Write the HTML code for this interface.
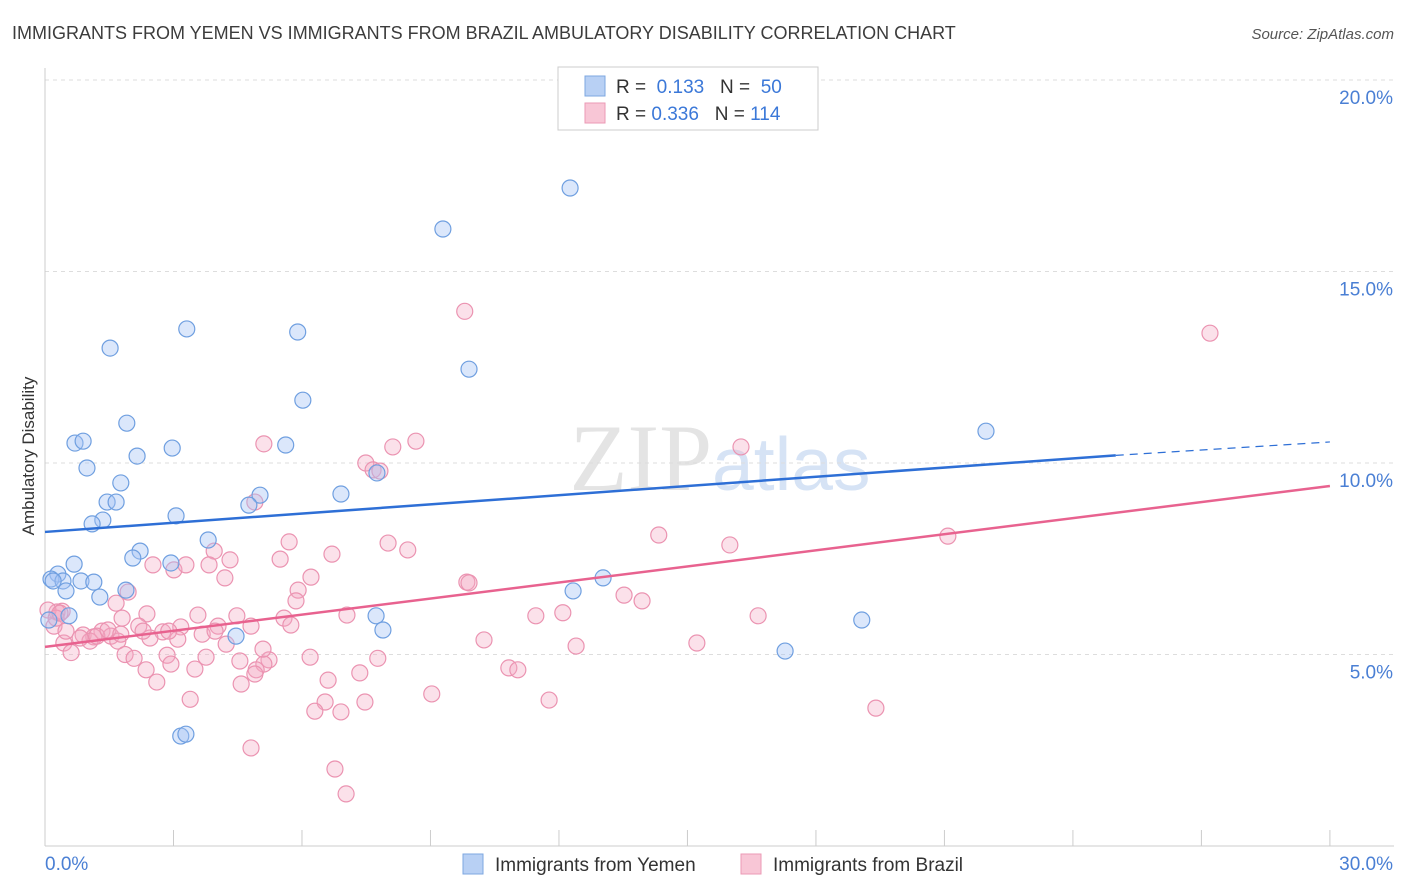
<!DOCTYPE html>
<html><head><meta charset="utf-8">
<style>
body{margin:0;background:#fff;font-family:"Liberation Sans",sans-serif;}
#wrap{position:relative;width:1406px;height:892px;overflow:hidden;}
</style></head>
<body>
<div id="wrap">
<svg id="chart" width="1406" height="892">
<text x="12" y="39" font-size="18" fill="#3c3c3c">IMMIGRANTS FROM YEMEN VS IMMIGRANTS FROM BRAZIL AMBULATORY DISABILITY CORRELATION CHART</text>
<text x="1394" y="39" font-size="15" fill="#555" font-style="italic" text-anchor="end">Source: ZipAtlas.com</text>
<text x="34" y="456" font-size="17" fill="#333" transform="rotate(-90 34 456)" text-anchor="middle">Ambulatory Disability</text>
<text x="720" y="490" font-size="95" fill="#e4e4e4" text-anchor="middle" font-family="Liberation Serif,serif">ZIP<tspan fill="#d6e3f5" font-family="Liberation Sans,sans-serif" font-size="75">atlas</tspan></text>
<g id="grid"></g><g id="axes"></g><g id="pts"></g><g id="lines"></g>
<g>
<rect x="558" y="67" width="260" height="63" fill="#fff" stroke="#ccc"/>
<rect x="585" y="76" width="20" height="20" fill="#b8d0f4" stroke="#7ea7e0"/>
<rect x="585" y="103" width="20" height="20" fill="#f8c6d6" stroke="#eb9ab5"/>
<text x="616" y="93" font-size="19" fill="#333">R = <tspan fill="#3b78d8">&#160;0.133</tspan>&#160;&#160;&#160;N = <tspan fill="#3b78d8">&#160;50</tspan></text>
<text x="616" y="120" font-size="19" fill="#333">R = <tspan fill="#3b78d8">0.336</tspan>&#160;&#160;&#160;N = <tspan fill="#3b78d8">114</tspan></text>
</g>
<g>
<rect x="463" y="854" width="20" height="20" fill="#b8d0f4" stroke="#7ea7e0"/>
<text x="495" y="871" font-size="19" fill="#333">Immigrants from Yemen</text>
<rect x="741" y="854" width="20" height="20" fill="#f8c6d6" stroke="#eb9ab5"/>
<text x="773" y="871" font-size="19" fill="#333">Immigrants from Brazil</text>
</g>
</svg>
</div>
<script>
const yemenX=[12.26,9.29,3.31,5.90,1.52,9.90,6.02,1.91,0.70,0.89,2.97,5.62,2.15,0.98,1.77,1.45,1.66,5.02,4.76,6.91,3.06,1.35,1.10,3.81,2.22,2.05,2.94,0.68,0.30,0.84,1.14,0.14,0.42,0.49,1.89,1.28,0.56,0.09,7.75,21.97,13.03,12.33,7.73,7.89,19.07,4.46,17.28,3.17,3.29,0.19];
const yemenY=[17.18,16.11,13.50,13.42,13.00,12.45,11.64,11.04,10.52,10.57,10.39,10.47,10.18,9.87,9.48,8.98,8.98,9.16,8.90,9.19,8.62,8.51,8.41,7.99,7.70,7.52,7.39,7.36,7.10,6.92,6.89,6.97,6.92,6.66,6.68,6.50,6.01,5.90,9.74,10.83,7.00,6.66,6.01,5.64,5.90,5.48,5.09,2.87,2.92,6.92];
const brazilX=[9.80,27.20,5.11,8.66,8.12,16.25,7.49,7.66,7.82,4.90,14.33,21.08,15.99,5.70,8.01,8.47,3.95,6.70,4.32,5.49,2.52,3.01,3.83,3.29,4.20,6.21,9.85,9.90,5.91,1.94,13.52,13.94,1.66,5.86,0.40,7.05,2.38,3.57,4.48,11.46,12.09,16.65,5.58,1.80,5.74,4.81,4.04,3.17,0.21,1.33,0.89,2.75,2.19,1.54,1.14,1.05,0.44,1.70,2.45,3.10,3.67,4.23,10.25,12.40,15.22,0.61,1.87,2.08,2.85,3.76,4.55,6.19,7.77,5.23,5.11,7.35,2.94,2.36,4.93,3.50,10.83,11.04,2.61,4.90,6.61,4.58,9.03,3.39,6.54,7.47,6.30,6.91,11.77,19.40,4.81,6.77,7.03,0.28,0.07,0.26,0.35,1.21,0.49,1.47,0.82,3.97,2.29,5.09,2.89,1.77];
const brazilY=[13.96,13.39,10.50,10.57,10.42,10.42,10.00,9.82,9.79,8.98,8.12,8.09,7.86,7.94,7.91,7.73,7.70,7.62,7.47,7.49,7.34,7.21,7.34,7.34,7.00,7.02,6.89,6.87,6.68,6.63,6.55,6.40,6.34,6.40,6.13,6.03,6.06,6.03,6.01,6.01,6.09,6.01,5.95,5.95,5.77,5.74,5.74,5.72,5.74,5.61,5.51,5.59,5.74,5.48,5.46,5.35,5.30,5.35,5.43,5.40,5.53,5.27,5.38,5.22,5.30,5.05,5.00,4.90,4.98,4.93,4.83,4.93,4.90,4.86,4.75,4.52,4.75,4.60,4.60,4.62,4.65,4.60,4.28,4.49,4.33,4.23,3.97,3.83,3.76,3.76,3.52,3.50,3.81,3.60,2.56,2.01,1.36,6.11,6.16,5.95,6.08,5.48,5.61,5.64,5.43,5.61,5.61,5.14,5.61,5.53];
const xTicks=[0,30];const yTicks=[5,10,15,20];
const yemenLine=[[0,8.2],[25,10.2]];const yemenDash=[[25,10.2],[30,10.55]];
const brazilLine=[[0,5.2],[30,9.4]];
const X=v=>45+v*42.83, Y=v=>846-v*38.3;
const NS='http://www.w3.org/2000/svg';
function mk(t,a,p){const e=document.createElementNS(NS,t);for(const k in a)e.setAttribute(k,a[k]);p.appendChild(e);return e;}
const grid=document.getElementById('grid'),axes=document.getElementById('axes'),pts=document.getElementById('pts'),lines=document.getElementById('lines');
yTicks.forEach(v=>{const l=mk('line',{x1:45,x2:1394,y1:Y(v),y2:Y(v),stroke:'#ddd','stroke-dasharray':'4,4'},grid);


const t=mk('text',{x:1393,y:Y(v)+24,'font-size':19,fill:'#4a7fd4','text-anchor':'end'},axes);t.textContent=v.toFixed(1)+'%';

});
const yl=mk('line',{x1:45,x2:45,y1:68,y2:846,stroke:'#ccc'},axes);


const xl=mk('line',{x1:45,x2:1394,y1:846,y2:846,stroke:'#ccc'},axes);


for(let i=0;i<=10;i++){const tk=mk('line',{x1:X(i*3),x2:X(i*3),y1:830,y2:846,stroke:'#ccc'},axes);

}
xTicks.forEach((v,i)=>{const t=mk('text',{x:i?1393:45,y:870,'font-size':19,fill:'#4a7fd4','text-anchor':i?'end':'start'},axes);t.textContent=v.toFixed(1)+'%';

});
brazilX.forEach((v,i)=>{const c=mk('circle',{cx:X(v),cy:Y(brazilY[i]),r:8,fill:'rgba(244,170,195,0.35)',stroke:'#eb93b1','stroke-width':1.2},pts);

});
yemenX.forEach((v,i)=>{const c=mk('circle',{cx:X(v),cy:Y(yemenY[i]),r:8,fill:'rgba(164,194,244,0.4)',stroke:'#6f9fe0','stroke-width':1.2},pts);

});
const l1=mk('line',{x1:X(yemenLine[0][0]),y1:Y(yemenLine[0][1]),x2:X(yemenLine[1][0]),y2:Y(yemenLine[1][1]),stroke:'#2e6fd6','stroke-width':2.5},lines);


const l2=mk('line',{x1:X(yemenDash[0][0]),y1:Y(yemenDash[0][1]),x2:X(yemenDash[1][0]),y2:Y(yemenDash[1][1]),stroke:'#2e6fd6','stroke-width':1.2,'stroke-dasharray':'8,6'},lines);


const l3=mk('line',{x1:X(brazilLine[0][0]),y1:Y(brazilLine[0][1]),x2:X(brazilLine[1][0]),y2:Y(brazilLine[1][1]),stroke:'#e8628f','stroke-width':2.5},lines);


</script>
</body></html>
